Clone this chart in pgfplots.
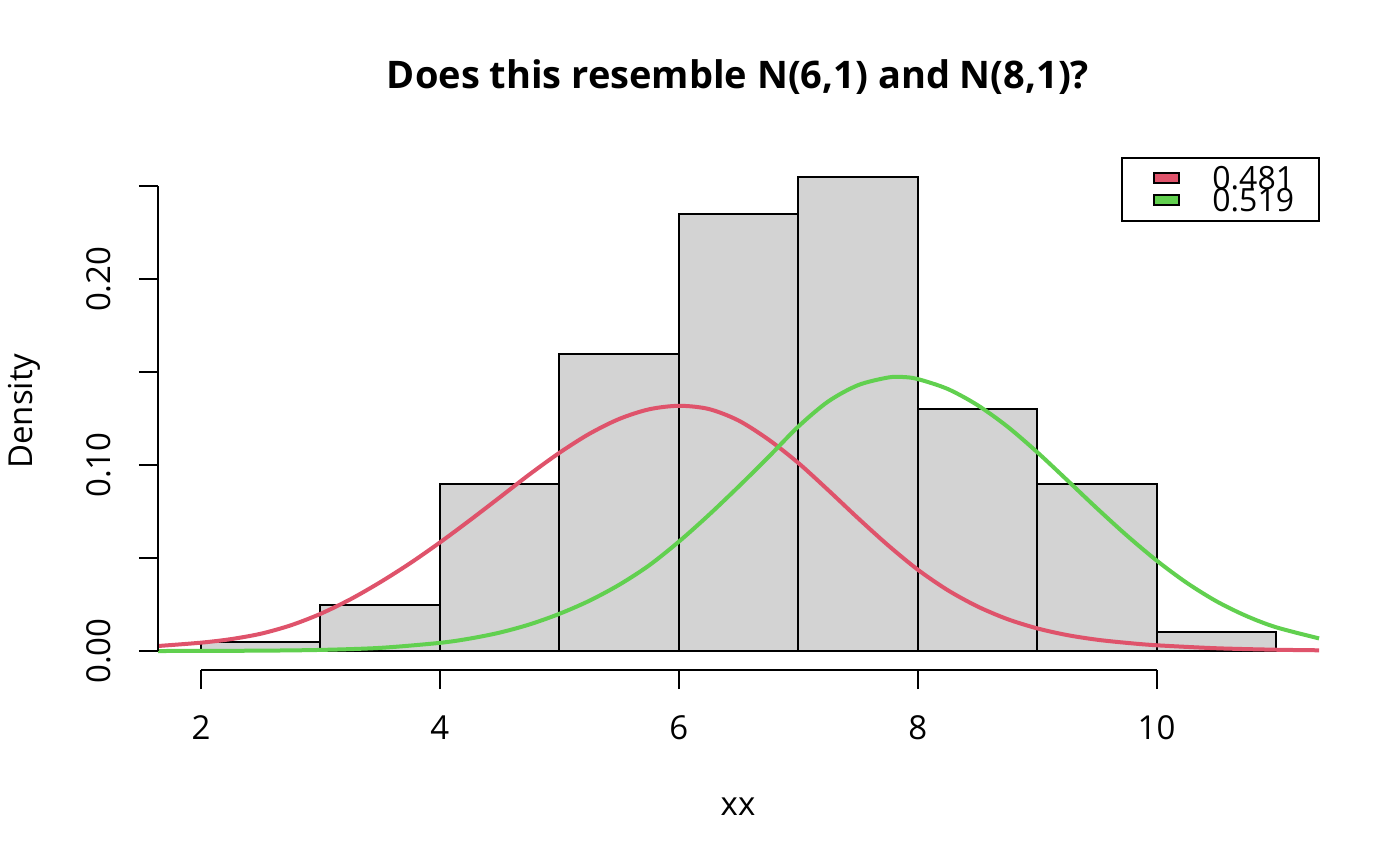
\documentclass[border=0pt]{standalone}
\usepackage{fontspec}
\setmainfont{Open Sans}
\usepackage{pgfplots}
\pgfplotsset{compat=1.18}
\definecolor{rred}{HTML}{DF536B}
\definecolor{rgreen}{HTML}{61D04F}
\definecolor{histgray}{HTML}{D3D3D3}
\begin{document}
\begin{tikzpicture}
\useasboundingbox (-79pt,-98pt) rectangle (621pt,335pt);
\begin{axis}[
  at={(0pt,0pt)}, anchor=south west,
  scale only axis, width=580.5pt, height=256pt,
  xmin=1.64, xmax=11.36, ymin=-0.0102, ymax=0.2652,
  axis line style={draw=none},
  clip=false,
  tick align=outside, major tick length=9.5pt,
  tick pos=left,
  tick style={black, line width=1pt},
  xtick={2,4,6,8,10}, xticklabels={2,4,6,8,10},
  ytick={0,0.05,0.10,0.15,0.20,0.25}, yticklabels={0.00,,0.10,,0.20,},
  ticklabel style={font=\fontsize{16.5}{18}\selectfont},
  xticklabel style={anchor=base, yshift=-25pt},
  yticklabel style={rotate=90, anchor=south, yshift=10.5pt},
]
\addplot[ybar interval, fill=histgray, draw=black, line width=1pt] coordinates {
  (2,0.005) (3,0.025) (4,0.09) (5,0.16) (6,0.235) (7,0.255) (8,0.13) (9,0.09) (10,0.01) (11,0.01)};
\addplot[rred, line width=2pt, smooth] coordinates {
  (1.64,0.0027) (2,0.0045) (2.25,0.0064) (2.5,0.0093) (2.75,0.0138) (3,0.0200)
  (3.25,0.0278) (3.5,0.0370) (3.75,0.0472) (4,0.0584) (4.25,0.0703) (4.5,0.0826)
  (4.75,0.0950) (5,0.1066) (5.25,0.1168) (5.5,0.1248) (5.75,0.1300) (6,0.1319)
  (6.25,0.1302) (6.5,0.1240) (6.75,0.1138) (7,0.1012) (7.25,0.0866) (7.5,0.0715)
  (7.75,0.0570) (8,0.0438) (8.25,0.0328) (8.5,0.0240) (8.75,0.0172) (9,0.0122)
  (9.25,0.0086) (9.5,0.0061) (9.75,0.0044) (10,0.0031) (10.5,0.0015) (11,0.0007) (11.36,0.0004)};
\addplot[rgreen, line width=2pt, smooth] coordinates {
  (1.64,0.0000) (2,0.0001) (2.5,0.0002) (3,0.0006) (3.5,0.0017) (4,0.0044)
  (4.25,0.0067) (4.5,0.0099) (4.75,0.0143) (5,0.0200) (5.25,0.0270) (5.5,0.0356)
  (5.75,0.0460) (6,0.0588) (6.25,0.0731) (6.5,0.0884) (6.75,0.1043) (7,0.1207)
  (7.25,0.1342) (7.5,0.1430) (7.75,0.1471) (7.875,0.1474) (8,0.1463) (8.25,0.1410)
  (8.5,0.1323) (8.75,0.1208) (9,0.1070) (9.25,0.0920) (9.5,0.0768) (9.75,0.0622)
  (10,0.0487) (10.25,0.0368) (10.5,0.0268) (10.75,0.0189) (11,0.0128) (11.36,0.0068)};
\draw[line width=1pt] (axis cs:2,-0.0102) -- (axis cs:10,-0.0102);
\draw[line width=1pt] (axis cs:1.64,0) -- (axis cs:1.64,0.25);
\end{axis}
% legend
\draw[line width=0.8pt] (482pt,224.5pt) rectangle (580.5pt,256pt);
\draw[line width=0.8pt, fill=rred] (498pt,243.5pt) rectangle (510.5pt,248.5pt);
\draw[line width=0.8pt, fill=rgreen] (498pt,232.5pt) rectangle (510.5pt,237.5pt);
\node[anchor=west, inner sep=0pt, font=\fontsize{16}{18}\selectfont] at (527pt,246pt) {0.481};
\node[anchor=west, inner sep=0pt, font=\fontsize{16}{18}\selectfont] at (527pt,235pt) {0.519};
% title and labels
\node[anchor=base, inner sep=0pt, font=\bfseries\fontsize{19}{22}\selectfont] at (290pt,290.5pt) {Does this resemble N(6,1) and N(8,1)?};
\node[anchor=base, inner sep=0pt, font=\fontsize{16.5}{18}\selectfont] at (290pt,-72.5pt) {xx};
\node[anchor=base, inner sep=0pt, rotate=90, font=\fontsize{16.5}{18}\selectfont] at (-62.5pt,129.5pt) {Density};
\end{tikzpicture}
\end{document}
